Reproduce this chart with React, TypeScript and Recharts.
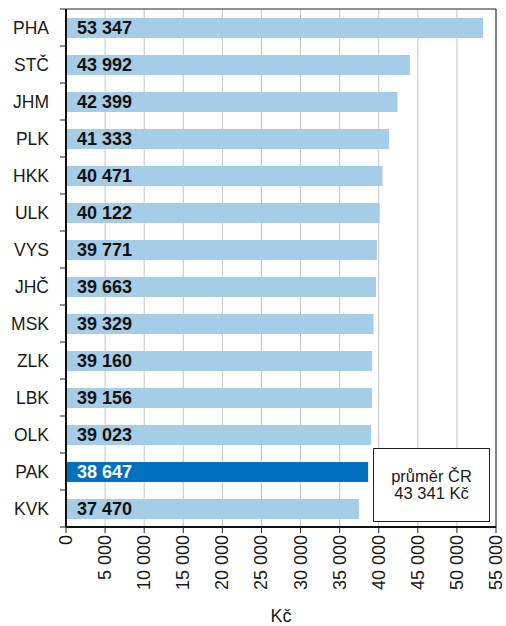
import React from "react";
import { BarChart, Bar, XAxis, YAxis, CartesianGrid, LabelList, ReferenceArea, Cell } from "recharts";

const regions = ["PHA", "STČ", "JHM", "PLK", "HKK", "ULK", "VYS", "JHČ", "MSK", "ZLK", "LBK", "OLK", "PAK", "KVK"];
const wages = [53347, 43992, 42399, 41333, 40471, 40122, 39771, 39663, 39329, 39160, 39156, 39023, 38647, 37470];
const highlight = "PAK";
const xTicks = [0, 5000, 10000, 15000, 20000, 25000, 30000, 35000, 40000, 45000, 50000, 55000];

const data = regions.map((r, i) => ({ region: r, value: wages[i] }));

const FONT = "'Liberation Sans', Arial, sans-serif";
const LIGHT = "#a6cde8";
const DARK = "#0070bf";

const fmt = (n: number) => String(n).replace(/\B(?=(\d{3})+(?!\d))/g, " ");

const BAND = 37;

function YTick(props: any) {
  const { x, y, payload, index } = props;
  // recharts hands over x already shifted by tickSize + tickMargin (6 + 2)
  const ax = x + 8;
  return (
    <g>
      <text x={ax - 17} y={y} textAnchor="end" dominantBaseline="central" fontSize={17.5} fill="#1a1a1a" fontFamily={FONT}>
        {payload.value}
      </text>
      {index === 0 && <line x1={ax - 6} x2={ax} y1={y - BAND / 2} y2={y - BAND / 2} stroke="#222" />}
      <line x1={ax - 6} x2={ax} y1={y + BAND / 2} y2={y + BAND / 2} stroke="#222" />
    </g>
  );
}

function XTick(props: any) {
  const { x, y, payload } = props;
  const ty = y;
  return (
    <text
      x={x}
      y={ty}
      transform={`rotate(-90 ${x} ${ty})`}
      textAnchor="end"
      dominantBaseline="central"
      fontSize={18}
      fill="#1a1a1a"
      fontFamily={FONT}
    >
      {fmt(payload.value)}
    </text>
  );
}

function BarLabel(props: any) {
  const { x, y, height, value, index } = props;
  const isHi = regions[index] === highlight;
  return (
    <text
      x={x + 11}
      y={y + height / 2}
      dominantBaseline="central"
      fontSize={18}
      fontWeight="bold"
      fill={isHi ? "#fff" : "#111"}
      fontFamily={FONT}
    >
      {fmt(value)}
    </text>
  );
}

export default function App() {
  return (
    <div style={{ position: "absolute", left: 0, top: 0, width: 506, height: 626, background: "#fff" }}>
      <BarChart
        width={506}
        height={626}
        data={data}
        layout="vertical"
        margin={{ top: 9, right: 10, bottom: 0, left: 0 }}
        barSize={20}
      >
        <CartesianGrid horizontal={false} vertical={true} stroke="#c4c4c4" strokeWidth={1} />
        <XAxis
          type="number"
          domain={[0, 55000]}
          ticks={xTicks}
          interval={0}
          height={99}
          tick={<XTick />}
          tickLine={{ stroke: "#222" }}
          tickSize={6}
          axisLine={{ stroke: "#111", strokeWidth: 2 }}
          label={{ value: "Kč", position: "insideBottom", offset: 4, fontSize: 18, fill: "#1a1a1a", fontFamily: FONT }}
        />
        <YAxis
          type="category"
          dataKey="region"
          width={66}
          tick={<YTick />}
          tickLine={false}
          axisLine={{ stroke: "#111", strokeWidth: 2 }}
          interval={0}
        />
        <ReferenceArea x1={0} x2={55000} fill="none" stroke="#222" strokeWidth={1} ifOverflow="visible" />
        <Bar dataKey="value" isAnimationActive={false}>
          {data.map((d) => (
            <Cell key={d.region} fill={d.region === highlight ? DARK : LIGHT} />
          ))}
          <LabelList dataKey="value" content={<BarLabel />} />
        </Bar>
      </BarChart>
      <div
        style={{
          position: "absolute",
          left: 373,
          top: 448,
          width: 117,
          height: 74,
          border: "1px solid #222",
          background: "#fff",
          fontFamily: FONT,
          fontSize: 16.5,
          color: "#1a1a1a",
          textAlign: "center",
          lineHeight: "17px",
          boxSizing: "border-box",
          display: "flex",
          flexDirection: "column",
          justifyContent: "center",
        }}
      >
        <div>průměr ČR</div>
        <div>43 341 Kč</div>
      </div>
    </div>
  );
}
